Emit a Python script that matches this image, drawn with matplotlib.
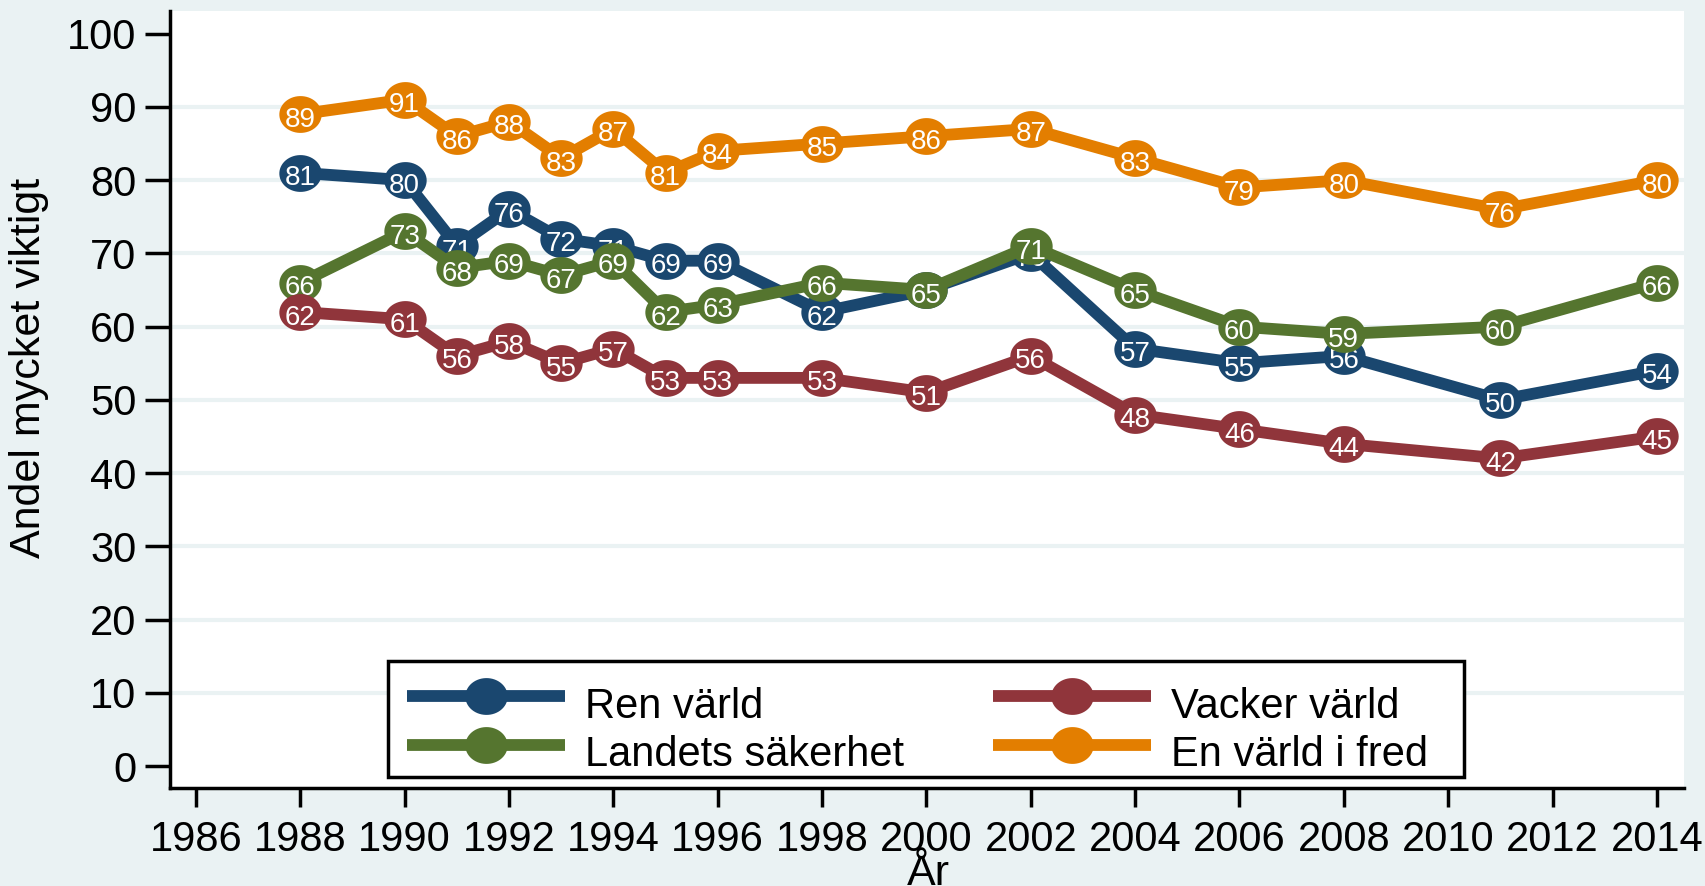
import numpy as np
import matplotlib
matplotlib.use('Agg')
import matplotlib.pyplot as plt
from matplotlib.path import Path
from matplotlib.patches import Rectangle
from matplotlib.transforms import Affine2D

plt.rcParams['font.family'] = ['Liberation Sans', 'DejaVu Sans']

years = [1988, 1990, 1991, 1992, 1993, 1994, 1995, 1996, 1998, 2000, 2002, 2004, 2006, 2008, 2011, 2014]
ren_varld = [81, 80, 71, 76, 72, 71, 69, 69, 62, 65, 70, 57, 55, 56, 50, 54]
landets_sakerhet = [66, 73, 68, 69, 67, 69, 62, 63, 66, 65, 71, 65, 60, 59, 60, 66]
vacker_varld = [62, 61, 56, 58, 55, 57, 53, 53, 53, 51, 56, 48, 46, 44, 42, 45]
varld_i_fred = [89, 91, 86, 88, 83, 87, 81, 84, 85, 86, 87, 83, 79, 80, 76, 80]

series = [
    ('Ren värld', ren_varld, '#1a476f'),
    ('Landets säkerhet', landets_sakerhet, '#55752f'),
    ('Vacker värld', vacker_varld, '#90353b'),
    ('En värld i fred', varld_i_fred, '#e37e00'),
]

bg = '#eaf2f3'

# slightly wide ellipse marker like Stata's
t = np.linspace(0, 2 * np.pi, 60)
ellipse = Path(np.column_stack([1.15 * np.cos(t), np.sin(t)]), closed=True)

fig = plt.figure(figsize=(17.06, 8.86), dpi=100, facecolor=bg)
ax = fig.add_axes([0.0996, 0.1106, 0.8875, 0.877])
ax.set_facecolor('white')

for i, (name, vals, col) in enumerate(series):
    z = 3 + i
    ax.plot(years, vals, color=col, lw=8.5, marker=ellipse, ms=30.5,
            mec='none', mfc=col, label=name, zorder=z, solid_capstyle='butt')
    for x, y in zip(years, vals):
        ax.annotate(str(y), (x, y), xytext=(0, -4), textcoords='offset points',
                    ha='center', va='center', color='white', fontsize=20, zorder=z + 0.5)

ax.set_xlim(1985.5, 2014.52)
ax.set_ylim(-3.0, 103.1)
ax.set_xticks(range(1986, 2015, 2))
ax.set_yticks(range(0, 101, 10))
ax.tick_params(axis='both', labelsize=30, length=14, width=2.5, color='black', pad=6)
ax.tick_params(axis='x', pad=9)
ax.tick_params(axis='y', length=18)
for yv in range(10, 100, 10):
    ax.axhline(yv, color=bg, lw=3, zorder=1)

for s in ['top', 'right']:
    ax.spines[s].set_visible(False)
for s in ['left', 'bottom']:
    ax.spines[s].set_linewidth(2.5)

fig.text(29 / 1706, 1 - 368 / 886, 'Andel mycket viktigt', rotation=90,
         ha='center', va='center', fontsize=31)
fig.text(928 / 1706, 1 - 854 / 886, 'År', ha='center', va='top', fontsize=31)

# legend box drawn separately so the entries can sit a bit low, like Stata
box = Rectangle((388 / 1706, 1 - 777 / 886), (1464 - 388) / 1706, (777 - 661) / 886,
                transform=fig.transFigure, facecolor='white', edgecolor='black',
                lw=2.5, zorder=9, clip_on=False)
ax.add_patch(box)
leg = ax.legend(ncol=2, loc='lower left', bbox_to_anchor=(388 / 1706, 1 - 787 / 886),
                bbox_transform=fig.transFigure, fontsize=30, frameon=False,
                handlelength=3.8, handletextpad=0.48,
                columnspacing=2.13, labelspacing=0.21, borderpad=0.45, borderaxespad=0)
leg.set_zorder(10)
# labels sit a little lower than the symbols in the original
for txt in leg.get_texts():
    txt.set_transform(txt.get_transform() + Affine2D().translate(0, -7))

fig.savefig('out.png', dpi=100, facecolor=bg)
